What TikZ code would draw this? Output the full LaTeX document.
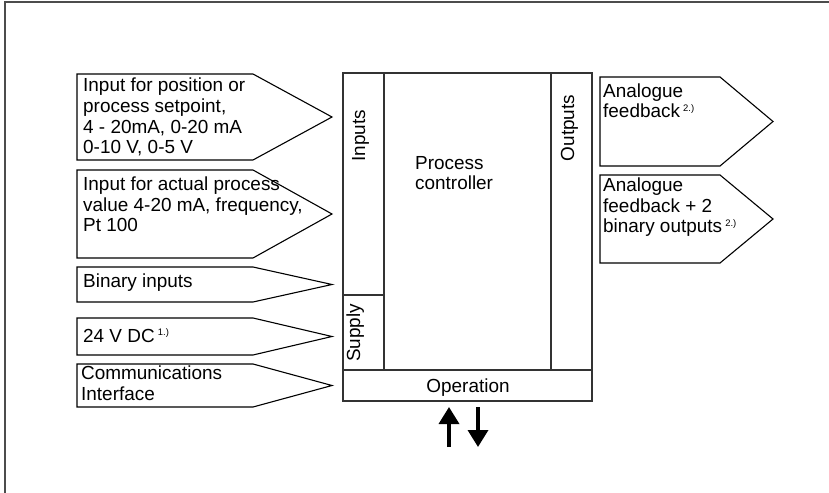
\documentclass[tikz,border=0pt]{standalone}
\usepackage{fontspec}
\setmainfont{Liberation Sans}
\usetikzlibrary{arrows.meta}
\newcommand{\fnote}[1]{\,{\fontsize{9.5}{10}\selectfont\raisebox{6.5bp}{#1}}}
\begin{document}
\begin{tikzpicture}[x=1bp,y=-1bp,line join=miter,
  pent/.style={draw=black,line width=1.1bp},
  boxline/.style={draw=black!80,line width=1.3bp},
  lbl/.style={anchor=base west,align=left,inner sep=0pt,font=\fontsize{19}{21}\selectfont},
  clbl/.style={anchor=base,inner sep=0pt,font=\fontsize{19}{21}\selectfont},
  rlbl/.style={anchor=base,inner sep=0pt,rotate=90,font=\fontsize{19}{21}\selectfont},
  bigarrow/.style={line width=3.5bp,-{Triangle[length=17bp,width=20bp]}}]
\useasboundingbox (0,0) rectangle (829,493);
% frame
\draw[line width=2bp,black!70] (5,493) -- (5,2) -- (829,2);
% input pentagons
\draw[pent] (77,74) -- (253,74) -- (332,117) -- (253,160) -- (77,160) -- cycle;
\draw[pent] (77,170) -- (253,170) -- (332,214) -- (253,258) -- (77,258) -- cycle;
\draw[pent] (77,267) -- (253,267) -- (332,284.5) -- (253,302) -- (77,302) -- cycle;
\draw[pent] (77,318) -- (253,318) -- (332,336.5) -- (253,355) -- (77,355) -- cycle;
\draw[pent] (77,364) -- (253,364) -- (332,385.5) -- (253,407) -- (77,407) -- cycle;
% output pentagons
\draw[pent] (600,77) -- (720,77) -- (773,121.5) -- (720,166) -- (600,166) -- cycle;
\draw[pent] (600,175) -- (720,175) -- (773,219) -- (720,263) -- (600,263) -- cycle;
% labels inputs (base = baseline of last line)
\node[lbl] (in1) at (83,154) {Input for position or\\process setpoint,\\4 - 20mA, 0-20 mA\\0-10 V, 0-5 V};
\node[lbl] (in2) at (83,232) {Input for actual process\\value 4-20 mA, frequency,\\Pt 100};
\node[lbl] (in3) at (83,288) {Binary inputs};
\node[lbl] (in4) at (83,342) {24 V DC\fnote{1.)}};
\node[lbl] (in5) at (81,400) {Communications\\Interface};
% labels outputs
\node[lbl] (out1) at (603,118) {Analogue\\feedback\fnote{2.)}};
\node[lbl] (out2) at (603,233) {Analogue\\feedback + 2\\binary outputs\fnote{2.)}};
% controller box
\draw[boxline] (343,73) rectangle (592,401);
\draw[boxline] (384,73) -- (384,370);
\draw[boxline] (551,73) -- (551,370);
\draw[boxline] (343,370) -- (592,370);
\draw[boxline] (343,295) -- (384,295);
\node[rlbl] (inputs) at (365,136) {Inputs};
\node[rlbl] (outputs) at (574,128) {Outputs};
\node[rlbl] (supply) at (360,333) {Supply};
\node[lbl] (pc) at (415,190) {Process\\controller};
\node[clbl] (op) at (468,392) {Operation};
% operation arrows
\coordinate (ua) at (449,447);
\coordinate (ub) at (449,407);
\coordinate (da) at (478,407);
\coordinate (db) at (478,447);
\draw[bigarrow] (ua) -- (ub);
\draw[bigarrow] (da) -- (db);
\end{tikzpicture}
\end{document}
